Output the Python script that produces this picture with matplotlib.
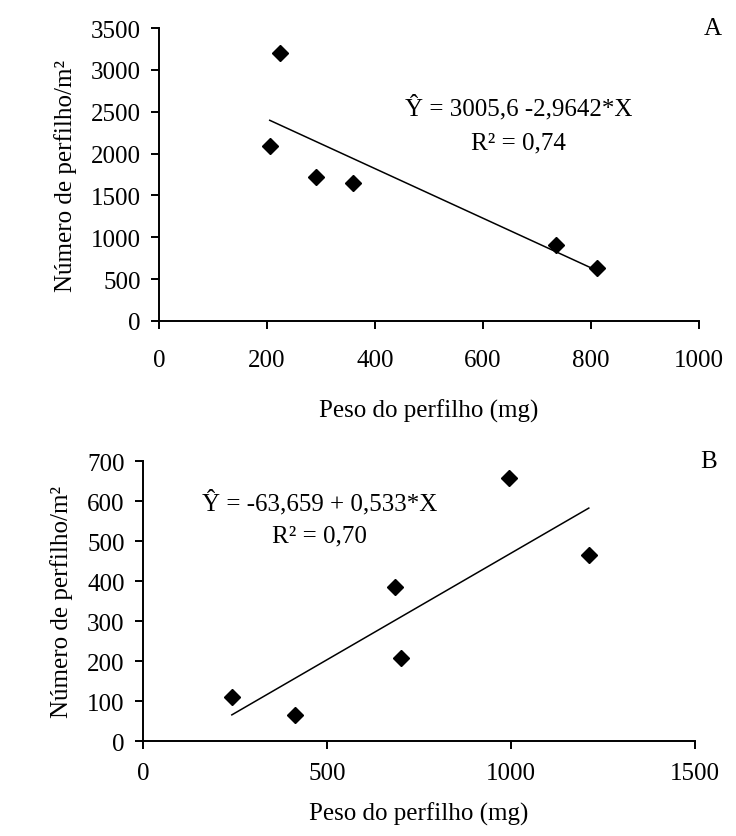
import numpy as np
import matplotlib
matplotlib.use("Agg")
import matplotlib.pyplot as plt

plt.rcParams['font.family'] = ['Liberation Serif', 'DejaVu Serif']

# panel A data
peso_a = [205, 224, 290, 360, 735, 811]
numero_a = [2090, 3200, 1720, 1650, 910, 635]
coef_a = (3005.6, -2.9642)

# panel B data
peso_b = [242, 413, 685, 701, 995, 1212]
numero_b = [110, 65, 385, 207, 657, 465]
coef_b = (-63.659, 0.533)

fig = plt.figure(figsize=(7.36, 8.37), dpi=100)
fs = 18

def panel(rect, x, y, coef, xlim, xticks, ylim, yticks, eq, r2, eqpos, letter, xpad, xlpad):
    ax = fig.add_axes(rect)
    ax.plot(x, y, 'D', color='black', markersize=8.5, clip_on=False)
    xs = np.array([min(x), max(x)])
    ax.plot(xs, coef[0] + coef[1] * xs, color='black', linewidth=1.1)
    ax.set_xlim(xlim)
    ax.set_ylim(ylim)
    ax.set_xticks(xticks)
    ax.set_yticks(yticks)
    for s in ['top', 'right']:
        ax.spines[s].set_visible(False)
    for s in ['left', 'bottom']:
        ax.spines[s].set_linewidth(1.4)
    ax.tick_params(direction='out', length=6, width=1.4, labelsize=fs, pad=7)
    ax.tick_params(axis='x', pad=xpad)
    ax.set_xlabel('Peso do perfilho (mg)', fontsize=fs, labelpad=xlpad)
    ax.set_ylabel('Número de perfilho/m²', fontsize=fs, labelpad=10)
    ax.text(eqpos[0], eqpos[1], eq, transform=ax.transAxes, ha='center', va='center', fontsize=fs)
    ax.text(eqpos[0], eqpos[1] - 0.12, r2, transform=ax.transAxes, ha='center', va='center', fontsize=fs)
    ax.text(1.025, 1.0, letter, transform=ax.transAxes, ha='center', va='center', fontsize=fs)
    return ax

panel([0.216, 0.6153, 0.734, 0.35], peso_a, numero_a, coef_a,
      (0, 1000), [0, 200, 400, 600, 800, 1000], (0, 3500), np.arange(0, 3501, 500),
      'Ŷ = 3005,6 -2,9642*X', 'R² = 0,74', (0.665, 0.73), 'A', 14, 20)

panel([0.194, 0.1135, 0.750, 0.3345], peso_b, numero_b, coef_b,
      (0, 1500), [0, 500, 1000, 1500], (0, 700), np.arange(0, 701, 100),
      'Ŷ = -63,659 + 0,533*X', 'R² = 0,70', (0.32, 0.855), 'B', 9, 13)

fig.savefig('out.png', dpi=100, facecolor='white')
